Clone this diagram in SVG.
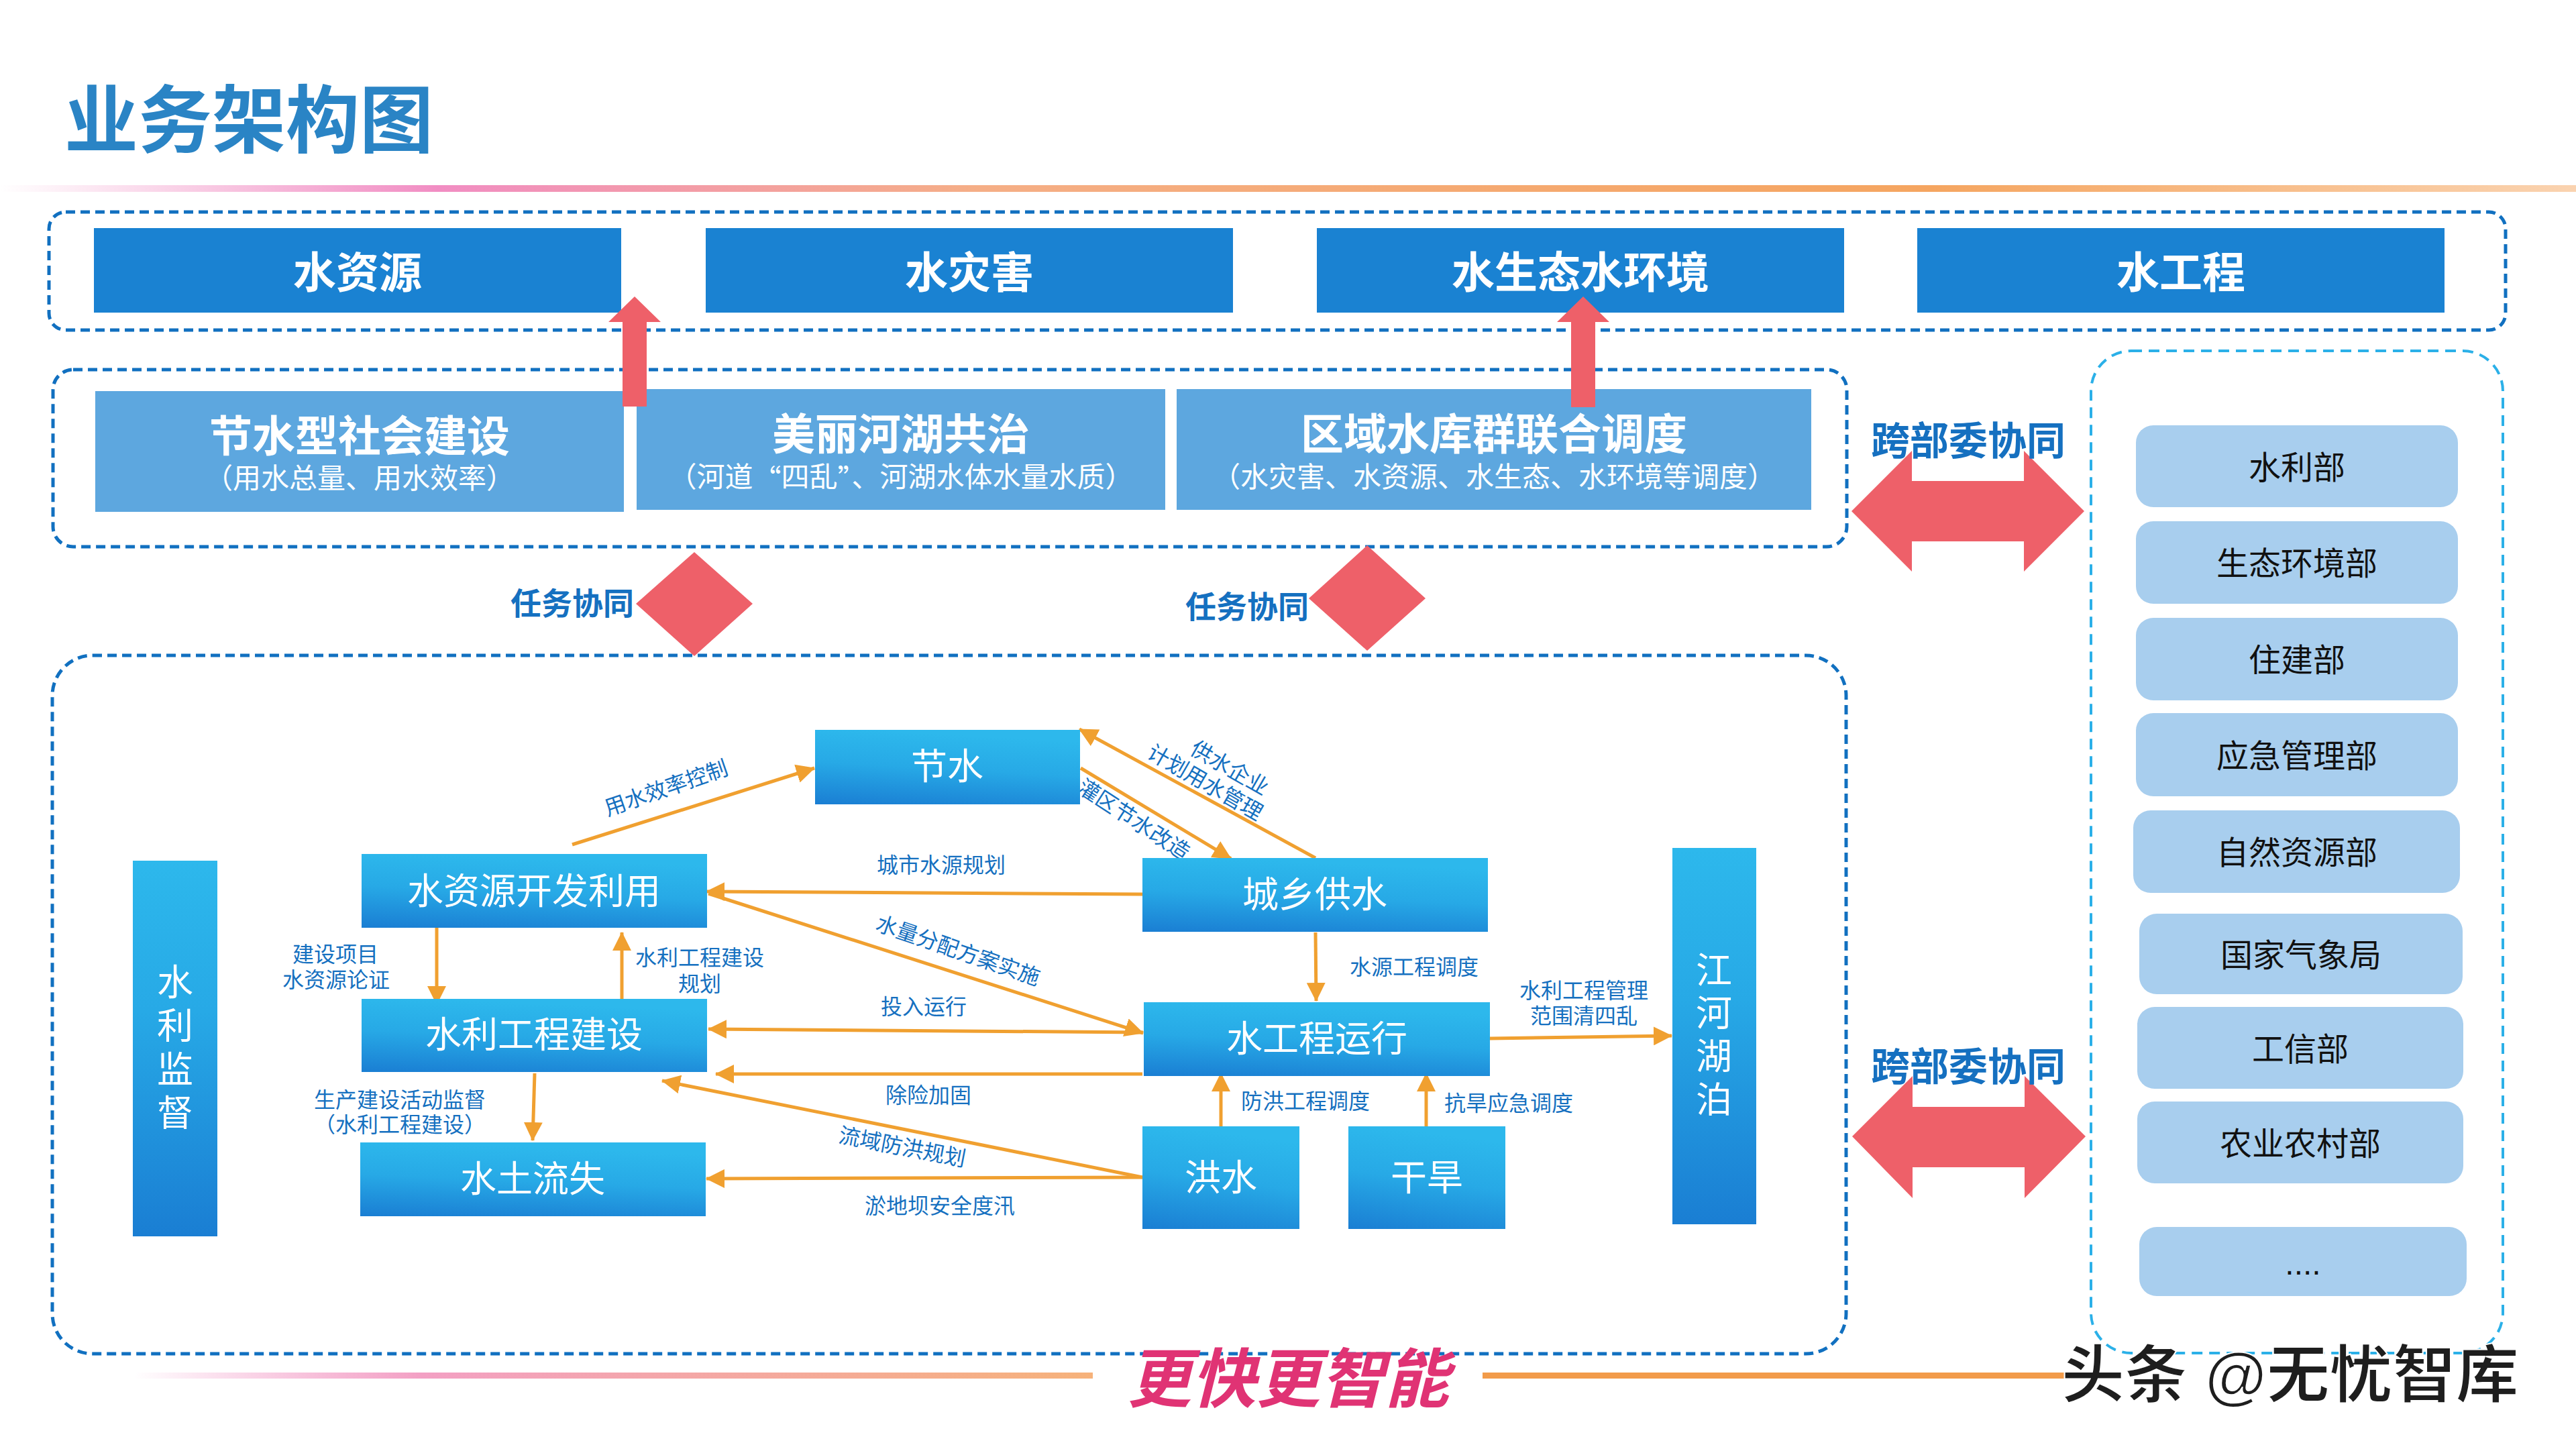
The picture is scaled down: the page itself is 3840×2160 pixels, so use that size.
<svg xmlns="http://www.w3.org/2000/svg" width="3840" height="2160" viewBox="0 0 3840 2160">
<defs>
<style>
text{font-family:"Liberation Sans","Noto Sans CJK SC",sans-serif;}
.cen{text-anchor:middle;dominant-baseline:central;}
.cjk{font-family:"Noto Sans CJK SC",sans-serif;}
.top{fill:#1A82D2;}
.topt{fill:#fff;font-size:64px;font-weight:700;}
.mid{fill:#5DA7DF;}
.midt{fill:#fff;font-size:64px;font-weight:700;}
.mids{font-size:42px;font-weight:400;}
.dept{fill:#A8CEEE;}
.deptt{fill:#111;font-size:48px;}
.node{fill:url(#ng);}
.vnode{fill:url(#vg);}
.nodet{fill:#fff;font-size:54px;}
.lbl{fill:#1570C0;font-size:32px;}
.blue{fill:#1570C0;font-weight:700;}
.red{fill:#EE6069;}
.conn{stroke:#F0A030;stroke-width:5;fill:none;marker-end:url(#ah);}
.dash1{fill:none;stroke:#1170C0;stroke-width:5;stroke-dasharray:14 8;}
.dash2{fill:none;stroke:#2BB0E8;stroke-width:4;stroke-dasharray:16 10;}
</style>
<linearGradient id="ng" x1="0" y1="1" x2="0.2" y2="0">
<stop offset="0" stop-color="#1A7ED3"/>
<stop offset="0.55" stop-color="#27A9E6"/>
<stop offset="1" stop-color="#2DB8EC"/>
</linearGradient>
<linearGradient id="vg" x1="0" y1="1" x2="0" y2="0">
<stop offset="0" stop-color="#1A7ED3"/>
<stop offset="0.6" stop-color="#27A9E6"/>
<stop offset="1" stop-color="#2DB8EC"/>
</linearGradient>
<linearGradient id="tl" x1="0" y1="0" x2="1" y2="0">
<stop offset="0" stop-color="#F18DC3" stop-opacity="0"/>
<stop offset="0.17" stop-color="#F18DC3"/>
<stop offset="0.38" stop-color="#F5AE86"/>
<stop offset="0.75" stop-color="#F5A560"/>
<stop offset="1" stop-color="#FAD3B0"/>
</linearGradient>
<linearGradient id="bl" x1="0" y1="0" x2="1" y2="0">
<stop offset="0" stop-color="#F18DC3" stop-opacity="0"/>
<stop offset="0.3" stop-color="#F3A0C4"/>
<stop offset="1" stop-color="#F6B27A"/>
</linearGradient>
<marker id="ah" markerUnits="userSpaceOnUse" markerWidth="30" markerHeight="28" refX="27" refY="14" orient="auto">
<path d="M0,0 L28,14 L0,28 z" fill="#F0A030"/>
</marker>
</defs>
<rect width="3840" height="2160" fill="#fff"/>

<g id="title">
<text x="96" y="180" style="font-size:110px;font-weight:700;fill:#2A84C5;dominant-baseline:central;">业务架构图</text>
<rect x="0" y="276" width="3840" height="10" fill="url(#tl)"/>
</g>

<g id="containers">
<rect class="dash1" x="73" y="316" width="3662" height="176" rx="25"/>
<rect class="dash1" x="79" y="551" width="2674" height="264" rx="30"/>
<rect class="dash1" x="78" y="977" width="2674" height="1041" rx="60"/>
<rect class="dash2" x="3117" y="523" width="614" height="1494" rx="60"/>
</g>

<g id="top-row">
<g id="n-shuiziyuan"><rect class="top" x="140" y="340" width="786" height="126"/><text class="cen topt" x="533" y="407">水资源</text></g>
<g id="n-shuizaihai"><rect class="top" x="1052" y="340" width="786" height="126"/><text class="cen topt" x="1445" y="407">水灾害</text></g>
<g id="n-shuishengtai"><rect class="top" x="1963" y="340" width="786" height="126"/><text class="cen topt" x="2356" y="407">水生态水环境</text></g>
<g id="n-shuigongcheng"><rect class="top" x="2858" y="340" width="786" height="126"/><text class="cen topt" x="3251" y="407">水工程</text></g>
</g>

<g id="mid-row">
<g id="n-jieshuixing"><rect class="mid" x="142" y="583" width="788" height="180"/><text class="cen midt" x="536" y="651">节水型社会建设<tspan class="mids" x="536" y="713">（用水总量、用水效率）</tspan></text></g>
<g id="n-meili"><rect class="mid" x="949" y="580" width="788" height="180"/><text class="cen midt" x="1343" y="648">美丽河湖共治<tspan class="mids" x="1343" y="711">（河道<tspan class="cjk">“</tspan>四乱<tspan class="cjk">”</tspan>、河湖水体水量水质）</tspan></text></g>
<g id="n-quyu"><rect class="mid" x="1754" y="580" width="946" height="180"/><text class="cen midt" x="2227" y="648">区域水库群联合调度<tspan class="mids" x="2227" y="711">（水灾害、水资源、水生态、水环境等调度）</tspan></text></g>
</g>

<g id="red-shapes">
<path class="red" d="M928,606 L928,480 L907,480 L946,442 L985,480 L964,480 L964,606 Z"/>
<path class="red" d="M2342,607 L2342,480 L2321,480 L2360,442 L2399,480 L2378,480 L2378,607 Z"/>
<path class="red" d="M1035,823 L1122,900 L1035,978 L948,900 Z"/>
<path class="red" d="M2038,813 L2125,892 L2038,970 L1951,892 Z"/>
<path class="red" d="M2760,762 L2850,672 L2850,717 L3017,717 L3017,672 L3107,762 L3017,852 L3017,807 L2850,807 L2850,852 Z"/>
<path class="red" d="M2761,1694 L2851,1604 L2851,1650 L3018,1650 L3018,1604 L3109,1694 L3018,1786 L3018,1740 L2851,1740 L2851,1786 Z"/>
</g>

<g id="coop-labels">
<text class="blue" x="945" y="900" style="font-size:46px;text-anchor:end;dominant-baseline:central;">任务协同</text>
<text class="blue" x="1951" y="905" style="font-size:46px;text-anchor:end;dominant-baseline:central;">任务协同</text>
<text class="blue cen" x="2934" y="657" style="font-size:58px;">跨部委协同</text>
<text class="blue cen" x="2934" y="1590" style="font-size:58px;">跨部委协同</text>
</g>

<g id="departments">
<g id="d1"><rect class="dept" x="3184" y="634" width="480" height="122" rx="26"/><text class="cen deptt" x="3424" y="697">水利部</text></g>
<g id="d2"><rect class="dept" x="3184" y="777" width="480" height="123" rx="26"/><text class="cen deptt" x="3424" y="840">生态环境部</text></g>
<g id="d3"><rect class="dept" x="3184" y="921" width="480" height="123" rx="26"/><text class="cen deptt" x="3424" y="984">住建部</text></g>
<g id="d4"><rect class="dept" x="3184" y="1063" width="480" height="124" rx="26"/><text class="cen deptt" x="3424" y="1127">应急管理部</text></g>
<g id="d5"><rect class="dept" x="3180" y="1208" width="487" height="123" rx="26"/><text class="cen deptt" x="3424" y="1271">自然资源部</text></g>
<g id="d6"><rect class="dept" x="3189" y="1362" width="482" height="120" rx="26"/><text class="cen deptt" x="3430" y="1424">国家气象局</text></g>
<g id="d7"><rect class="dept" x="3186" y="1501" width="486" height="122" rx="26"/><text class="cen deptt" x="3429" y="1564">工信部</text></g>
<g id="d8"><rect class="dept" x="3186" y="1642" width="486" height="122" rx="26"/><text class="cen deptt" x="3429" y="1705">农业农村部</text></g>
<g id="d9"><rect class="dept" x="3189" y="1829" width="488" height="103" rx="26"/><text x="3433" y="1900" style="fill:#111;font-size:48px;text-anchor:middle;">....</text></g>
</g>

<g id="connectors">
<path class="conn" d="M853,1259 L1214,1145"/>
<path class="conn" d="M1961,1279 L1609,1087"/>
<path class="conn" d="M1611,1145 L1835,1280"/>
<path class="conn" d="M1703,1333 L1053,1329"/>
<path class="conn" d="M1056,1332 L1704,1540"/>
<path class="conn" d="M1704,1539 L1056,1534"/>
<path class="conn" d="M1703,1601 L1067,1601"/>
<path class="conn" d="M1703,1755 L987,1611"/>
<path class="conn" d="M1703,1755 L1053,1757"/>
<path class="conn" d="M651,1378 L651,1497"/>
<path class="conn" d="M927,1493 L927,1390"/>
<path class="conn" d="M797,1600 L794,1700"/>
<path class="conn" d="M1961,1390 L1962,1492"/>
<path class="conn" d="M1820,1679 L1820,1600"/>
<path class="conn" d="M2126,1679 L2126,1600"/>
<path class="conn" d="M2221,1548 L2492,1544"/>
<text class="cen lbl" transform="translate(993,1175) rotate(-19)">用水效率控制</text>
<text class="cen lbl" transform="translate(1833,1145) rotate(30)">供水企业<tspan x="-21" y="37">计划用水管理</tspan></text>
<text class="cen lbl" transform="translate(1690,1222) rotate(33)">灌区节水改造</text>
<text class="cen lbl" x="1403" y="1290">城市水源规划</text>
<text class="cen lbl" transform="translate(1428,1417) rotate(19)">水量分配方案实施</text>
<text class="cen lbl" x="1377" y="1501">投入运行</text>
<text class="cen lbl" x="1384" y="1633">除险加固</text>
<text class="cen lbl" transform="translate(1345,1710) rotate(11)">流域防洪规划</text>
<text class="cen lbl" x="1401" y="1798">淤地坝安全度汛</text>
<text class="cen lbl" x="500" y="1423">建设项目<tspan x="501" y="1461">水资源论证</tspan></text>
<text class="cen lbl" x="1043" y="1428">水利工程建设<tspan x="1043" y="1467">规划</tspan></text>
<text class="cen lbl" x="596" y="1640">生产建设活动监督<tspan x="596" y="1677">（水利工程建设）</tspan></text>
<text class="cen lbl" x="2108" y="1442">水源工程调度</text>
<text class="cen lbl" x="1946" y="1642">防洪工程调度</text>
<text class="cen lbl" x="2249" y="1645">抗旱应急调度</text>
<text class="cen lbl" x="2361" y="1477">水利工程管理<tspan x="2361" y="1515">范围清四乱</tspan></text>
</g>

<g id="n-shuilijiandu"><rect class="vnode" x="198" y="1283" width="126" height="560"/>
<text class="cen nodet" x="261" y="1465">水<tspan x="261" y="1530">利</tspan><tspan x="261" y="1595">监</tspan><tspan x="261" y="1660">督</tspan></text></g>
<g id="n-kaifa"><rect class="node" x="539" y="1273" width="515" height="110"/><text class="cen nodet" x="796" y="1329">水资源开发利用</text></g>
<g id="n-jianshe"><rect class="node" x="539" y="1489" width="515" height="109"/><text class="cen nodet" x="796" y="1543">水利工程建设</text></g>
<g id="n-shuitu"><rect class="node" x="537" y="1703" width="515" height="110"/><text class="cen nodet" x="794" y="1758">水土流失</text></g>
<g id="n-jieshui"><rect class="node" x="1215" y="1088" width="395" height="111"/><text class="cen nodet" x="1412" y="1143">节水</text></g>
<g id="n-gongshui"><rect class="node" x="1703" y="1279" width="515" height="110"/><text class="cen nodet" x="1960" y="1334">城乡供水</text></g>
<g id="n-yunxing"><rect class="node" x="1705" y="1494" width="516" height="110"/><text class="cen nodet" x="1963" y="1549">水工程运行</text></g>
<g id="n-hongshui"><rect class="node" x="1703" y="1679" width="234" height="153"/><text class="cen nodet" x="1820" y="1756">洪水</text></g>
<g id="n-ganhan"><rect class="node" x="2010" y="1679" width="234" height="153"/><text class="cen nodet" x="2127" y="1756">干旱</text></g>
<g id="n-jianghe"><rect class="vnode" x="2493" y="1264" width="125" height="561"/>
<text class="cen nodet" x="2555" y="1447">江<tspan x="2555" y="1511">河</tspan><tspan x="2555" y="1575">湖</tspan><tspan x="2555" y="1640">泊</tspan></text></g>

<g id="footer">
<rect x="200" y="2046" width="1429" height="9" fill="url(#bl)"/>
<rect x="2210" y="2046" width="900" height="9" fill="#F29B4A"/>
<text class="cen" x="1920" y="2056" style="font-size:96px;font-weight:700;font-style:italic;fill:#E03374;">更快更智能</text>
<text x="3073" y="2050" style="font-size:94px;font-weight:700;fill:#1E1E1E;dominant-baseline:central;stroke:#fff;stroke-width:2;">头条 @无忧智库</text>
</g>
</svg>
